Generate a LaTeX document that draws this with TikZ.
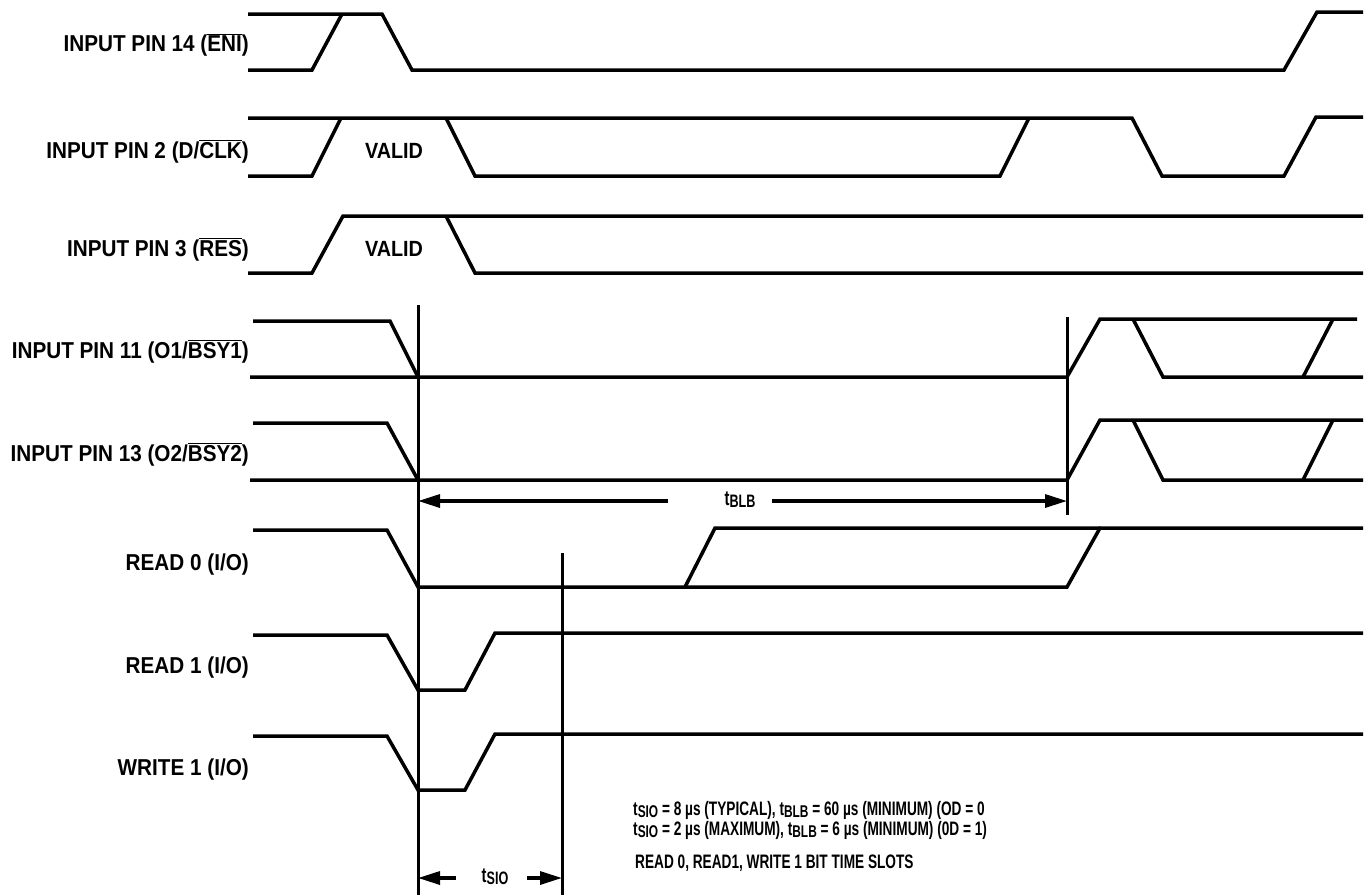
\documentclass[tikz,border=0pt]{standalone}
\usepackage{fontspec}
\setmainfont{Liberation Sans}
\newfontfamily\lblfont{Liberation Sans Bold}[FakeStretch=0.9]
\newfontfamily\notefont{Liberation Sans Bold}[FakeStretch=0.7]
\usetikzlibrary{arrows.meta}
\newcommand\ovl[1]{$\overline{\mbox{#1}}$}
\newcommand\tsub[2]{t\raisebox{-0.25ex}{\fontsize{#2}{#2}\selectfont #1}}
\tikzset{
  sig/.style={line width=3.5pt, line join=miter},
  vline/.style={line width=3pt},
  dimarrow/.style={line width=3.2pt, -{Triangle[length=22pt,width=13pt]}},
  lbl/.style={anchor=base east, inner sep=0pt, font=\lblfont\fontsize{23}{26}\selectfont},
  valid/.style={anchor=base, inner sep=0pt, font=\lblfont\fontsize{22}{26}\selectfont},
  note/.style={anchor=base west, inner sep=0pt, align=left, font=\notefont\fontsize{19.5}{16}\selectfont},
  tlbl/.style={anchor=base, inner sep=0pt, font=\notefont\fontsize{21}{22}\selectfont}
}
\begin{document}
\begin{tikzpicture}[x=1pt,y=-1pt]
\useasboundingbox (0,0) rectangle (1367,895);
% labels
\node[lbl] (l1) at (249,51) {INPUT PIN 14 (\ovl{ENI})};
\node[lbl] (l2) at (249,158) {INPUT PIN 2 (D/\ovl{CLK})};
\node[lbl] (l3) at (249,256) {INPUT PIN 3 (\ovl{RES})};
\node[lbl] (l4) at (249,358) {INPUT PIN 11 (O1/\ovl{BSY1})};
\node[lbl] (l5) at (249,461) {INPUT PIN 13 (O2/\ovl{BSY2})};
\node[lbl] (l6) at (249,570) {READ 0 (I/O)};
\node[lbl] (l7) at (249,673) {READ 1 (I/O)};
\node[lbl] (l8) at (249,775) {WRITE 1 (I/O)};
\node[valid] (v1) at (394,158) {VALID};
\node[valid] (v2) at (394,256) {VALID};
% ENI
\draw[sig] (248,14) -- (382,14) -- (412,70) -- (1284,70) -- (1317,12) -- (1363,12);
\draw[sig] (248,70) -- (312,70) -- (342,14);
% D/CLK
\draw[sig] (248,118) -- (1132,118) -- (1162,176) -- (1284,176) -- (1316,117) -- (1363,117);
\draw[sig] (248,176) -- (312,176) -- (341,118);
\draw[sig] (446,118) -- (475,176) -- (1000,176) -- (1029,118);
% RES
\draw[sig] (248,273) -- (312,273) -- (343,216) -- (1363,216);
\draw[sig] (446,216) -- (475,273) -- (1363,273);
% O1/BSY1
\draw[sig] (253,321) -- (390,321) -- (418,377);
\draw[sig] (250,377) -- (1067,377) -- (1100,319) -- (1357,319);
\draw[sig] (1133,319) -- (1163,377) -- (1363,377);
\draw[sig] (1303,377) -- (1333,319);
% O2/BSY2
\draw[sig] (253,423) -- (387,423) -- (418,480);
\draw[sig] (250,480) -- (1067,480) -- (1100,420) -- (1363,420);
\draw[sig] (1133,420) -- (1163,480) -- (1363,480);
\draw[sig] (1303,480) -- (1333,420);
% READ 0
\draw[sig] (253,530) -- (387,530) -- (418,587) -- (1067,587) -- (1100,528) -- (1363,528);
\draw[sig] (685,587) -- (715,528) -- (1100,528);
% READ 1
\draw[sig] (253,635) -- (387,635) -- (418,690) -- (465,690) -- (495,633) -- (1363,633);
% WRITE 1
\draw[sig] (253,736) -- (387,736) -- (418,790) -- (465,790) -- (495,734) -- (1363,734);
% vertical markers
\coordinate (a0) at (418,305);
\coordinate (a1) at (418,895);
\coordinate (b0) at (562,553);
\coordinate (b1) at (562,895);
\coordinate (c0) at (1067,317);
\coordinate (c1) at (1067,515);
\draw[vline] (a0) -- (a1);
\draw[vline] (b0) -- (b1);
\draw[vline] (c0) -- (c1);
% tBLB
\node[tlbl] (tblb) at (740,505) {\tsub{BLB}{18}};
\coordinate (blbL) at (418,501);
\coordinate (blbR) at (1067,501);
\coordinate (blbLs) at (668,501);
\coordinate (blbRs) at (772,501);
\draw[dimarrow] (blbLs) -- (blbL);
\draw[dimarrow] (blbRs) -- (blbR);
% tSIO
\node[tlbl] (tsio) at (495,882) {\tsub{SIO}{18}};
\coordinate (sioL) at (418,878);
\coordinate (sioR) at (562,878);
\coordinate (sioLs) at (456,878);
\coordinate (sioRs) at (527,878);
\draw[dimarrow] (sioLs) -- (sioL);
\draw[dimarrow] (sioRs) -- (sioR);
% notes
\node[note] (n1) at (633,815) {\tsub{SIO}{17} = 8 µs (TYPICAL), \tsub{BLB}{17} = 60 µs (MINIMUM) (OD = 0};
\node[note] (n2) at (633,835) {\tsub{SIO}{17} = 2 µs (MAXIMUM), \tsub{BLB}{17} = 6 µs (MINIMUM) (0D = 1)};
\node[note] (n3) at (635,868) {READ 0, READ1, WRITE 1 BIT TIME SLOTS};
\end{tikzpicture}
\end{document}
